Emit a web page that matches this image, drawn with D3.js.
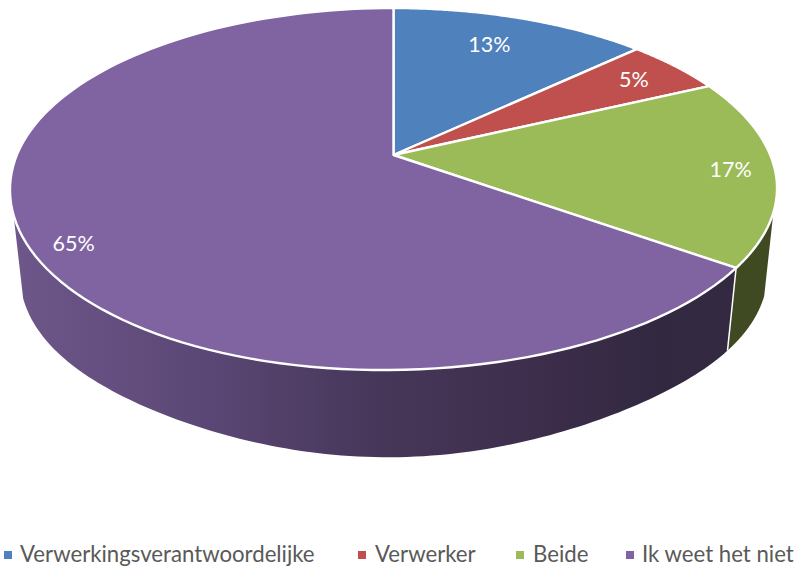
<!DOCTYPE html>
<html><head><meta charset="utf-8">
<script src="https://cdn.jsdelivr.net/npm/d3@7"></script>
<style>html,body{margin:0;padding:0;background:#fff}svg{display:block}text{font-family:Lato,"Open Sans",sans-serif}</style>
</head><body>
<script>
const categories = ["Verwerkingsverantwoordelijke","Verwerker","Beide","Ik weet het niet"];
const values = [13,5,17,65];
const colors = ["#4f81bd","#c0504d","#9bbb59","#8064a2"];
const sideColors = ["#2a4464","#662b29","#3f4a23","url(#sideGrad)"];
const labelRadius = [0.775,0.84,0.885,0.90];
const labelShiftDeg = [-1.5,0,0,-3.4];
const legendMarkerX = [4,358,516,626];
const legendTextX = [20,375,533,642];

const W=795,H=569;
const cx=393.5, cy=155, Rx=376.7, Ry=174.6, K=0.188;
const vpX=400, vpY=3600;
const svg=d3.select("body").append("svg").attr("width",W).attr("height",H);

const defs=svg.append("defs");
const grad=defs.append("linearGradient").attr("id","sideGrad").attr("gradientUnits","userSpaceOnUse")
  .attr("x1",12).attr("x2",735).attr("y1",0).attr("y2",0);
[[0,"#6e578a"],[0.25,"#5c4877"],[0.5,"#47375a"],[0.75,"#3b2d4a"],[0.9,"#322840"],[1,"#332a42"]]
  .forEach(s=>grad.append("stop").attr("offset",s[0]).attr("stop-color",s[1]));

function flat(a,r=1){
  const u=r*Math.sin(a), v=-r*Math.cos(a), w=1/(1-K*v);
  return [cx+Rx*u*w, cy+Ry*v*w, u, v];
}
function top3d(a,r=1){
  const p=flat(a,r);
  return [p[0], p[1]-0.012*(p[0]-cx)*Math.max(0,p[3])];
}
function bottom3d(a){
  const p=flat(a), u=p[2], v=p[3], s=0.0237+0.0033*v;
  const f=Math.max(0,v);
  return [p[0]+s*(vpX-p[0]),
          p[1]+s*(vpY-p[1])-0.01*(p[0]-cx)*f-40*u*u*f*f*f*f];
}
const pie=d3.pie().sort(null).value(d=>d);
const arcs=pie(values);
const line=d3.line();
const deg=Math.PI/180;
const visFrom=108.5*deg, visTo=251.5*deg;
const samples=(a0,a1)=>d3.range(0,121).map(i=>a0+(a1-a0)*i/120);

arcs.forEach((d,i)=>{
  const a0=Math.max(d.startAngle,visFrom), a1=Math.min(d.endAngle,visTo);
  if(a1<=a0) return;
  const as=samples(a0,a1);
  const pts=as.map(a=>top3d(a)).concat(as.slice().reverse().map(a=>bottom3d(a)));
  svg.append("path").attr("d",line(pts)+"Z").attr("fill",sideColors[i]);
});
arcs.forEach(d=>{
  const a=d.startAngle;
  if(a>visFrom&&a<visTo){
    svg.append("path").attr("d",line([top3d(a),bottom3d(a)]))
      .attr("stroke","#fff").attr("stroke-width",1.5).attr("fill","none");
  }
});
arcs.forEach((d,i)=>{
  const pts=[top3d(0,0)].concat(samples(d.startAngle,d.endAngle).map(a=>top3d(a)));
  svg.append("path").attr("d",line(pts)+"Z").attr("fill",colors[i])
    .attr("stroke","#fff").attr("stroke-width",2.4).attr("stroke-linejoin","round");
});
arcs.forEach((d,i)=>{
  const a=(d.startAngle+d.endAngle)/2+labelShiftDeg[i]*deg;
  const p=top3d(a,labelRadius[i]);
  svg.append("text").attr("x",p[0]).attr("y",p[1]).attr("dy","0.35em").attr("text-anchor","middle")
    .attr("font-size",21.5).attr("fill","#fff").text(d3.format("d")(d.value)+"%");
});
categories.forEach((c,i)=>{
  svg.append("rect").attr("x",legendMarkerX[i]).attr("y",551).attr("width",8).attr("height",8).attr("fill",colors[i]);
  svg.append("text").attr("x",legendTextX[i]).attr("y",562).attr("font-size",22.2).attr("fill","#595959").text(c);
});
</script>
</body></html>
